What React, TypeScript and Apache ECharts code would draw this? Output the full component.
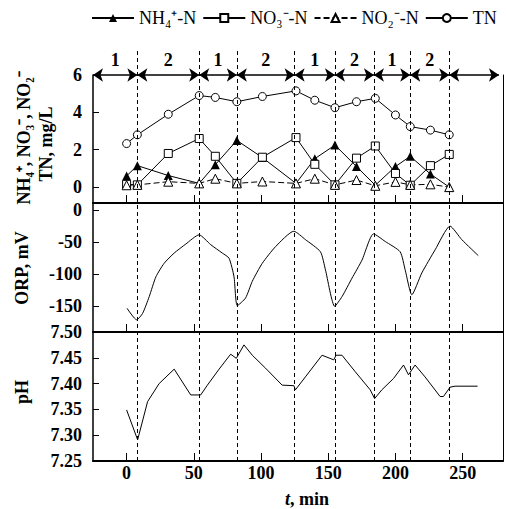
import React, { useEffect, useRef } from 'react';
import * as echarts from 'echarts';

// ---- data ----
const sampleTimes = [0, 8, 31, 54, 66, 82, 101, 126, 140, 155, 171, 185, 200, 211, 226, 240];
const nh4 = [0.6, 1.15, 0.62, 0.2, 1.2, 2.5, 1.58, 0.2, 1.52, 2.25, 1.1, 0.1, 1.1, 1.65, 0.7, 0.0];
const no3 = [0.15, 0.12, 1.8, 2.6, 1.65, 0.2, 1.6, 2.65, 1.22, 0.12, 1.55, 2.2, 0.73, 0.1, 1.15, 1.75];
const no2 = [0.1, 0.12, 0.29, 0.2, 0.45, 0.2, 0.3, 0.2, 0.45, 0.12, 0.38, 0.07, 0.28, 0.12, 0.15, 0.0];
const tn = [2.33, 2.8, 3.9, 4.9, 4.8, 4.57, 4.85, 5.15, 4.65, 4.25, 4.57, 4.75, 3.86, 3.24, 3.05, 2.8];

const orpTimes = [0.3, 7.5, 11.9, 16.8, 21.8, 27.9, 35.4, 44, 53.9, 62.6, 71.2, 76.2, 79.9, 82.3, 88.5, 93.5, 100.9, 110.8, 124.4, 133, 144.2, 147.9, 154.8, 160.2, 167.7, 175.1, 183.7, 192.4, 203.5, 207.2, 212.2, 219.6, 229.5, 240.6, 249.3, 261.6];
const orpValues = [-153, -171, -161, -135, -104, -83, -67, -53, -38.6, -54, -67, -75, -104, -149, -137, -111, -83, -57, -33, -46, -65, -93, -150, -135, -106, -78, -37, -49, -65, -93, -132, -98, -62, -25, -46, -71];

const phTimes = [0, 8.2, 15.6, 24.2, 35.4, 47.7, 55.1, 60.1, 68.8, 77.4, 81.6, 87.3, 93.5, 103.3, 115.7, 124.4, 125.6, 133, 145.4, 154.1, 155.8, 160.2, 170.1, 181.2, 184.5, 189.9, 198.6, 206, 209.7, 214.6, 222, 233.2, 235.7, 240.6, 244.3, 261.1];
const phValues = [7.349, 7.291, 7.365, 7.4, 7.428, 7.378, 7.378, 7.397, 7.428, 7.457, 7.449, 7.475, 7.455, 7.43, 7.397, 7.396, 7.388, 7.413, 7.455, 7.446, 7.455, 7.455, 7.423, 7.388, 7.371, 7.388, 7.41, 7.436, 7.417, 7.436, 7.413, 7.375, 7.375, 7.393, 7.395, 7.395];

const boundaries = [8, 54, 82, 125, 155, 184, 211, 240];
const phaseStarts = [-25, 8, 54, 82, 125, 155, 184, 211, 240];
const phaseEnds = [8, 54, 82, 125, 155, 184, 211, 240, 277];
const phaseLabels = ['1', '2', '1', '2', '1', '2', '1', '2', ''];

const xTicks = [0, 50, 100, 150, 200, 250];
const nTicks = [0, 2, 4, 6];
const orpTicks = [0, -50, -100, -150];
const phTicks = [7.25, 7.3, 7.35, 7.4, 7.45, 7.5];

const seriesNames = ['NH\u2084\u207A-N', 'NO\u2083\u207B-N', 'NO\u2082\u207B-N', 'TN'];

const FONT = '"Liberation Serif", "Times New Roman", serif';

const pairs = (xs: number[], ys: number[]) => xs.map((x, i) => [x, ys[i]]);

export default function App() {
  const ref = useRef<HTMLDivElement>(null);
  useEffect(() => {
    if (!ref.current) return;
    const chart = echarts.init(ref.current, undefined, { renderer: 'svg' });
    const labelStyle = { color: '#000', fontFamily: FONT, fontWeight: 'bold' as const, fontSize: 18 };

    const grids = [
      { left: 93, right: 3, top: 75, height: 128 },
      { left: 93, right: 3, top: 203, height: 129 },
      { left: 93, right: 3, top: 332, height: 129 },
      { left: 93, right: 3, top: 50, height: 411 },
    ];

    const mkX = (gridIndex: number, showLabels: boolean) => ({
      type: 'value', gridIndex, min: -25, max: 280,
      axisLine: { show: true, onZero: false, lineStyle: { color: '#000', width: 2 } },
      axisTick: { show: true, inside: true, length: 8, customValues: xTicks, lineStyle: { color: '#000', width: 1 } },
      axisLabel: { show: showLabels, customValues: xTicks, margin: 3, ...labelStyle },
      splitLine: { show: false },
    });

    const mkY = (gridIndex: number, min: number, max: number, ticks: number[], fmt?: (v: number) => string) => ({
      type: 'value', gridIndex, min, max,
      axisLine: { show: true, onZero: false, lineStyle: { color: '#000', width: 1.5 } },
      axisTick: { show: true, inside: true, length: 6, customValues: ticks, lineStyle: { color: '#000', width: 1 } },
      axisLabel: { show: true, customValues: ticks, margin: 11, formatter: fmt, ...labelStyle },
      splitLine: { show: false },
    });

    const mkRight = (gridIndex: number, min: number, max: number) => ({
      type: 'value', gridIndex, min, max, position: 'right',
      axisLine: { show: true, onZero: false, lineStyle: { color: '#000', width: 1 } },
      axisTick: { show: false }, axisLabel: { show: false }, splitLine: { show: false },
    });

    const openSym = { color: '#fff', borderColor: '#000', borderWidth: 1 };

    const option: any = {
      animation: false,
      backgroundColor: '#fff',
      grid: grids,
      xAxis: [mkX(0, false), mkX(1, false), mkX(2, true), { type: 'value', gridIndex: 3, min: -25, max: 280, show: false }],
      yAxis: [
        mkY(0, -0.85, 6, nTicks),
        mkY(1, -190, 11, orpTicks),
        mkY(2, 7.25, 7.5, phTicks, (v: number) => v.toFixed(2)),
        { type: 'value', gridIndex: 3, min: 0, max: 1, show: false },
        mkRight(0, -0.85, 6),
        mkRight(1, -190, 11),
        mkRight(2, 7.25, 7.5),
      ],
      legend: {
        top: 4, left: 86, itemWidth: 42, itemHeight: 10, itemGap: 6,
        data: seriesNames,
        textStyle: { color: '#000', fontFamily: FONT, fontSize: 18 },
      },
      series: [
        {
          name: seriesNames[0], type: 'line', xAxisIndex: 0, yAxisIndex: 0,
          data: pairs(sampleTimes, nh4), symbol: 'triangle', symbolSize: 9,
          itemStyle: { color: '#000' }, lineStyle: { color: '#000', width: 1 },
        },
        {
          name: seriesNames[1], type: 'line', xAxisIndex: 0, yAxisIndex: 0,
          data: pairs(sampleTimes, no3), symbol: 'rect', symbolSize: 8,
          itemStyle: openSym, lineStyle: { color: '#000', width: 1 },
        },
        {
          name: seriesNames[2], type: 'line', xAxisIndex: 0, yAxisIndex: 0,
          data: pairs(sampleTimes, no2), symbol: 'triangle', symbolSize: 9,
          itemStyle: openSym, lineStyle: { color: '#000', width: 1, type: [6, 3] },
        },
        {
          name: seriesNames[3], type: 'line', xAxisIndex: 0, yAxisIndex: 0,
          data: pairs(sampleTimes, tn), symbol: 'circle', symbolSize: 8,
          itemStyle: openSym, lineStyle: { color: '#000', width: 1 },
        },
        {
          name: 'phases', type: 'line', xAxisIndex: 0, yAxisIndex: 0, data: [],
          markLine: {
            silent: true, symbol: ['arrow', 'arrow'], symbolSize: 10,
            lineStyle: { color: '#000', width: 1.5, type: 'solid' },
            label: { show: true, position: 'middle', formatter: '{b}', distance: 6, ...labelStyle },
            data: phaseStarts.map((s, i) => [
              { name: phaseLabels[i], coord: [s, 6] },
              { coord: [phaseEnds[i], 6] },
            ]),
          },
        },
        {
          name: 'ORP', type: 'line', xAxisIndex: 1, yAxisIndex: 1,
          data: pairs(orpTimes, orpValues), symbol: 'none', smooth: 0.2,
          lineStyle: { color: '#000', width: 1 },
        },
        {
          name: 'pH', type: 'line', xAxisIndex: 2, yAxisIndex: 2,
          data: pairs(phTimes, phValues), symbol: 'none',
          lineStyle: { color: '#000', width: 1 },
        },
        {
          name: 'boundaries', type: 'line', xAxisIndex: 3, yAxisIndex: 3, data: [],
          markLine: {
            silent: true, symbol: 'none', label: { show: false },
            lineStyle: { color: '#000', width: 1, type: [4, 3] },
            data: boundaries.map((b) => ({ xAxis: b })),
          },
        },
      ],
      graphic: [
        {
          type: 'text', x: 24, y: 138, rotation: Math.PI / 2,
          style: { text: 'NH\u2084\u207A, NO\u2083\u207B, NO\u2082\u207B', fontFamily: FONT, fontWeight: 'bold', fontSize: 18, fill: '#000', align: 'center', verticalAlign: 'middle' },
        },
        {
          type: 'text', x: 46, y: 144, rotation: Math.PI / 2,
          style: { text: 'TN, mg/L', fontFamily: FONT, fontWeight: 'bold', fontSize: 18, fill: '#000', align: 'center', verticalAlign: 'middle' },
        },
        {
          type: 'text', x: 22, y: 268, rotation: Math.PI / 2,
          style: { text: 'ORP, mV', fontFamily: FONT, fontWeight: 'bold', fontSize: 18, fill: '#000', align: 'center', verticalAlign: 'middle' },
        },
        {
          type: 'text', x: 22, y: 392, rotation: Math.PI / 2,
          style: { text: 'pH', fontFamily: FONT, fontWeight: 'bold', fontSize: 18, fill: '#000', align: 'center', verticalAlign: 'middle' },
        },
        {
          type: 'text', x: 307, y: 499,
          style: {
            text: '{i|t}, min', fontFamily: FONT, fontWeight: 'bold', fontSize: 18, fill: '#000', align: 'center', verticalAlign: 'middle',
            rich: { i: { fontFamily: FONT, fontStyle: 'italic', fontWeight: 'bold', fontSize: 18, fill: '#000' } },
          },
        },
      ],
    };
    chart.setOption(option);
    return () => chart.dispose();
  }, []);
  return <div ref={ref} style={{ position: 'fixed', left: 0, top: 0, width: 506, height: 509 }} />;
}
